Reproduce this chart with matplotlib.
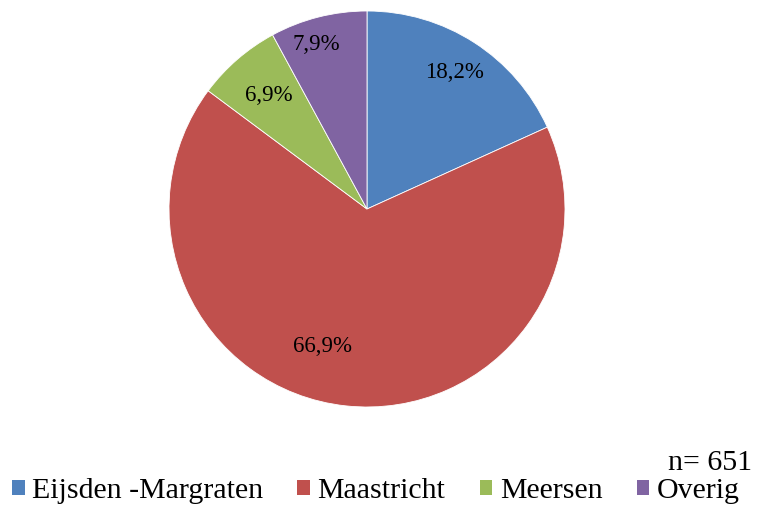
import numpy as np
import matplotlib.pyplot as plt
from matplotlib.patches import Patch
from matplotlib.font_manager import FontProperties

# data
categories = ['Eijsden -Margraten', 'Maastricht', 'Meersen', 'Overig']
shares = [18.2, 66.9, 6.9, 7.9]
colors = ['#4F81BD', '#C0504D', '#9BBB59', '#8064A2']
n_total = 651

# label placement (fraction of radius, angle nudge in degrees)
label_r = [0.82, 0.73, 0.76, 0.87]
label_nudge = [0, -12, 0, 3]

W, H = 759, 507
fig = plt.figure(figsize=(W / 100, H / 100), dpi=100)

# pie centre and radius in pixels
cx, cy, r = 367, 209, 198
ax = fig.add_axes([(cx - r) / W, (H - cy - r) / H, 2 * r / W, 2 * r / H])
wedges, _ = ax.pie(shares, colors=colors, startangle=90, counterclock=False,
                   radius=1, wedgeprops=dict(edgecolor='white', linewidth=0.6))
ax.set_xlim(-1, 1)
ax.set_ylim(-1, 1)
ax.set_aspect('equal')
ax.axis('off')

for w, val, lr, nd in zip(wedges, shares, label_r, label_nudge):
    mid = np.deg2rad((w.theta1 + w.theta2) / 2 + nd)
    ax.text(lr * np.cos(mid), lr * np.sin(mid), ('%.1f%%' % val).replace('.', ','),
            ha='center', va='center', fontsize=16.5, family='Liberation Serif')

leg_font = FontProperties(family='Liberation Serif', size=21.5)
handles = [Patch(facecolor=c, edgecolor='none') for c in colors]
fig.legend(handles, categories, loc='center left', bbox_to_anchor=(12 / W, 1 - 491 / H),
           ncol=4, frameon=False, prop=leg_font,
           handlelength=0.42, handleheight=0.42, handletextpad=0.25,
           columnspacing=1.15, borderaxespad=0, borderpad=0)

fig.text(752 / W, 1 - 463 / H, 'n= %d' % n_total, ha='right', va='center',
         fontproperties=leg_font)

fig.savefig('out.png', dpi=100)
